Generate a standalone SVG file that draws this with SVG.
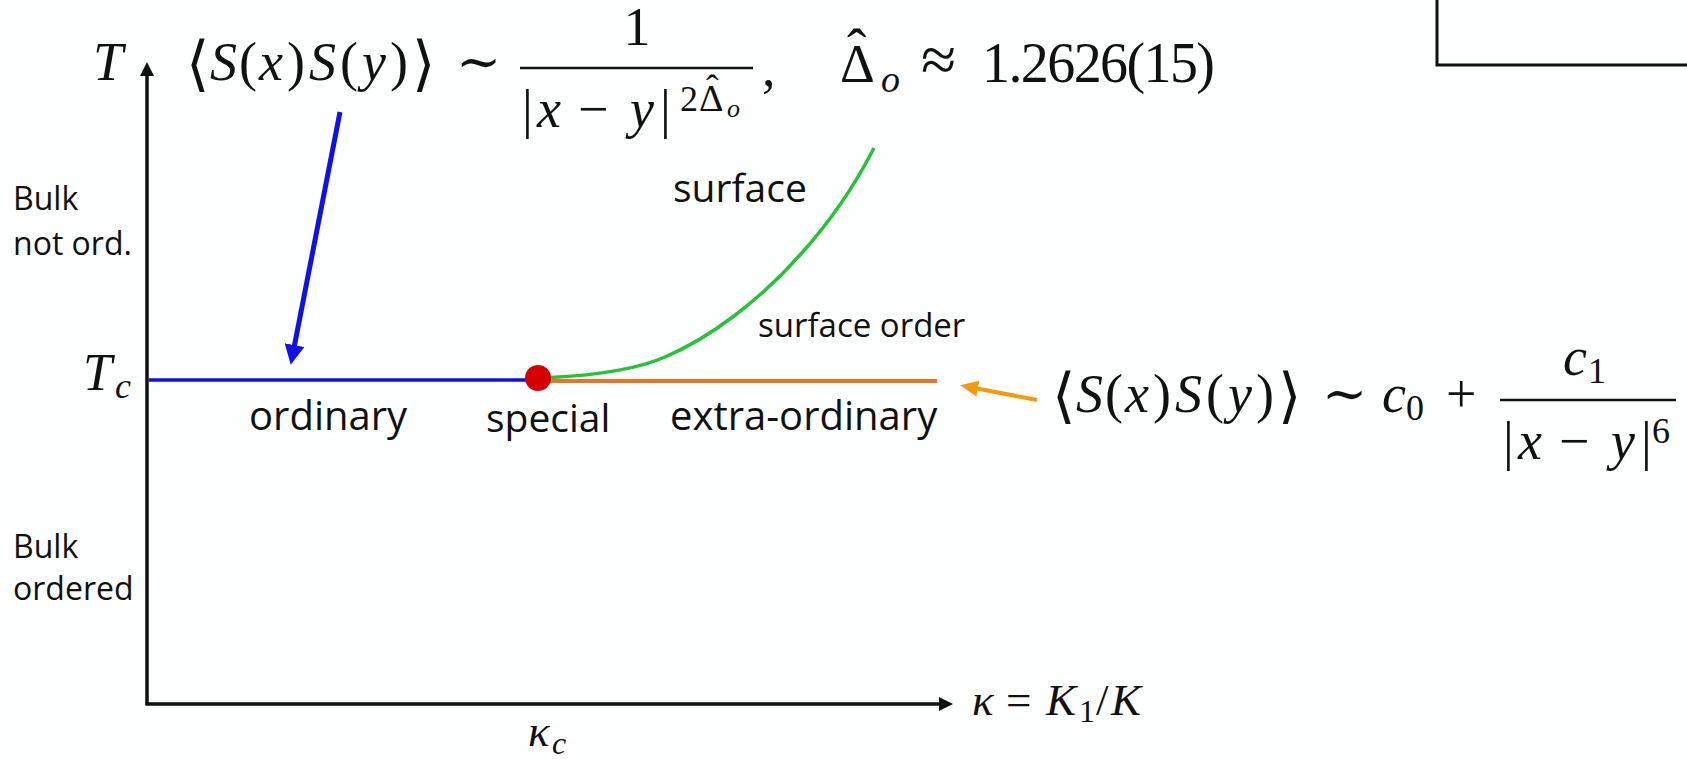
<svg xmlns="http://www.w3.org/2000/svg" width="1687" height="759" viewBox="0 0 1687 759">
<style>
.lbl{font-family:"Open Sans","Liberation Sans",sans-serif;fill:#111}
.m{font-family:"Liberation Serif","DejaVu Serif",serif;fill:#111}
.i{font-style:italic}
.br{font-family:"DejaVu Serif","Liberation Serif",serif;font-size:60px}
.ax{stroke:#111;stroke-width:3.5;fill:none}
</style>
<defs>
<marker id="axHead" markerUnits="userSpaceOnUse" markerWidth="16" markerHeight="14" refX="6" refY="7" orient="auto"><path d="M0,0 L14,7 L0,14 z" fill="#111"/></marker>
<marker id="blueHead" markerUnits="userSpaceOnUse" markerWidth="22" markerHeight="22" refX="8" refY="10" orient="auto"><path d="M0,0 L20,10 L0,20 z" fill="#1010e8"/></marker>
<marker id="orangeHead" markerUnits="userSpaceOnUse" markerWidth="20" markerHeight="18" refX="6" refY="8" orient="auto"><path d="M0,0 L18,8 L0,16 z" fill="#f59a0f"/></marker>
</defs>
<rect width="1687" height="759" fill="#fcfffd"/>

<g id="corner-box"><path d="M1437,-5 L1437,65 L1692,65" stroke="#111" stroke-width="3" fill="none"/></g>

<g id="axes">
<line class="ax" x1="147" y1="705" x2="147" y2="70" marker-end="url(#axHead)"/>
<line class="ax" x1="145.5" y1="704" x2="945" y2="704" marker-end="url(#axHead)"/>
<text class="m i" x="93" y="80" font-size="54">T</text>
<text class="m" y="390" font-size="52"><tspan class="i" x="83">T</tspan><tspan class="i" x="115" y="398" font-size="36">c</tspan></text>
<text class="m" y="715" font-size="45"><tspan class="i" x="972">κ</tspan><tspan x="1006">=</tspan><tspan class="i" x="1046">K</tspan><tspan x="1079" y="722" font-size="32">1</tspan><tspan x="1096" y="715">/</tspan><tspan class="i" x="1111">K</tspan></text>
<text class="m" y="746" font-size="45"><tspan class="i" x="528">κ</tspan><tspan class="i" x="552" y="754" font-size="32">c</tspan></text>
</g>

<g id="phase-lines">
<line id="ordinary-line" x1="149" y1="380" x2="538" y2="380" stroke="#1010e8" stroke-width="3.5"/>
<line id="extraordinary-line" x1="538" y1="381" x2="937" y2="381" stroke="#e8742a" stroke-width="4"/>
<path id="surface-line" d="M550,377.5 C600,375 640,368 665,357 C710,338 760,300 800,255 C830,222 855,185 874,148" stroke="#27c13b" stroke-width="3.5" fill="none"/>
</g>

<g id="special-point"><circle cx="538" cy="378" r="13" fill="#d40000"/></g>

<g id="labels">
<text class="lbl" font-size="32"><tspan x="13" y="210">Bulk</tspan><tspan x="13" y="255">not ord.</tspan></text>
<text class="lbl" font-size="32"><tspan x="13" y="558">Bulk</tspan><tspan x="13" y="600">ordered</tspan></text>
<text class="lbl" x="673" y="202" font-size="39">surface</text>
<text class="lbl" x="758" y="337" font-size="33">surface order</text>
<text class="lbl" x="249" y="430" font-size="40">ordinary</text>
<text class="lbl" x="486" y="432" font-size="39">special</text>
<text class="lbl" x="670" y="430" font-size="40">extra-ordinary</text>
</g>

<g id="formula-top">
<text class="m" y="80" font-size="54"><tspan class="br" x="186" y="84">⟨</tspan><tspan class="i" x="210" y="80">S</tspan><tspan x="239">(</tspan><tspan class="i" x="259">x</tspan><tspan x="287">)</tspan><tspan class="i" x="309">S</tspan><tspan x="340">(</tspan><tspan class="i" x="362">y</tspan><tspan x="390">)</tspan><tspan class="br" x="412" y="84">⟩</tspan><tspan x="456" y="80">∼</tspan></text>
<line x1="520" y1="68" x2="753" y2="68" stroke="#111" stroke-width="2.5"/>
<text class="m" x="637" y="45" font-size="54" text-anchor="middle">1</text>
<text class="m" y="127" font-size="54"><tspan x="522">|</tspan><tspan class="i" x="537">x</tspan><tspan x="578">−</tspan><tspan class="i" x="630">y</tspan><tspan x="660">|</tspan><tspan x="680" y="111" font-size="36">2</tspan><tspan x="699" y="111" font-size="38">Δ</tspan><tspan x="706" y="101" font-size="38">ˆ</tspan><tspan class="i" x="727" y="117" font-size="26">o</tspan></text>
<text class="m" x="762" y="86" font-size="54">,</text>
<text class="m" y="82" font-size="54"><tspan x="840">Δ</tspan><tspan x="847" y="68" font-size="58">ˆ</tspan><tspan class="i" x="881" y="92" font-size="38">o</tspan><tspan x="921" y="81" font-size="64">≈</tspan></text>
<text class="m" x="982" y="82" font-size="56" textLength="233" lengthAdjust="spacing">1.2626(15)</text>
</g>

<g id="formula-right">
<text class="m" y="412" font-size="54"><tspan class="br" x="1052" y="416">⟨</tspan><tspan class="i" x="1076" y="412">S</tspan><tspan x="1105">(</tspan><tspan class="i" x="1125">x</tspan><tspan x="1153">)</tspan><tspan class="i" x="1175">S</tspan><tspan x="1206">(</tspan><tspan class="i" x="1228">y</tspan><tspan x="1256">)</tspan><tspan class="br" x="1278" y="416">⟩</tspan><tspan x="1322" y="412">∼</tspan><tspan class="i" x="1382">c</tspan><tspan x="1406" y="420" font-size="36">0</tspan><tspan x="1446" y="412">+</tspan></text>
<line x1="1500" y1="400" x2="1676" y2="400" stroke="#111" stroke-width="2.5"/>
<text class="m" y="375" font-size="54"><tspan class="i" x="1563">c</tspan><tspan x="1588" y="383" font-size="36">1</tspan></text>
<text class="m" y="459" font-size="54"><tspan x="1503">|</tspan><tspan class="i" x="1518">x</tspan><tspan x="1559">−</tspan><tspan class="i" x="1611">y</tspan><tspan x="1641">|</tspan><tspan x="1652" y="443" font-size="36">6</tspan></text>
</g>

<g id="connectors">
<line id="arrow-top" x1="340" y1="112" x2="293" y2="353" stroke="#1010e8" stroke-width="5" marker-end="url(#blueHead)"/>
<line id="arrow-right" x1="1037" y1="400" x2="972" y2="387.5" stroke="#f59a0f" stroke-width="4" marker-end="url(#orangeHead)"/>
</g>
</svg>
